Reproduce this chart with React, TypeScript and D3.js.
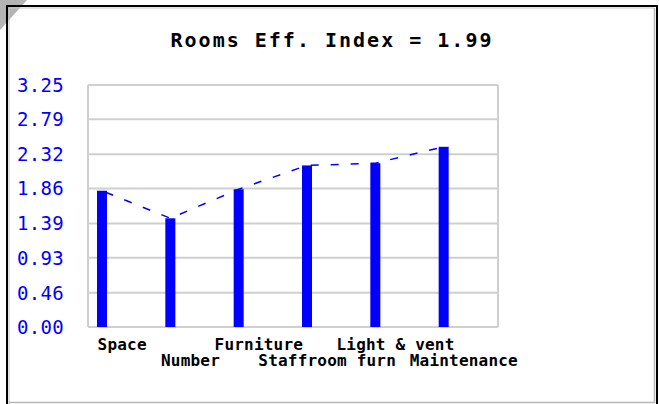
import React, { useEffect, useRef } from 'react';
import * as d3 from 'd3';

// chart data
const categories = ['Space', 'Number', 'Furniture', 'Staffroom furn', 'Light & vent', 'Maintenance'];
const values = [1.83, 1.46, 1.85, 2.17, 2.2, 2.42];
const tickLabels = ['0.00', '0.46', '0.93', '1.39', '1.86', '2.32', '2.79', '3.25'];
const title = 'Rooms Eff. Index = 1.99';

const W = 659;
const H = 404;

const App = () => {
  const svgRef = useRef<SVGSVGElement>(null);

  useEffect(() => {
    const svg = d3.select(svgRef.current);
    svg.selectAll('*').remove();

    const plot = { left: 88, right: 498, top: 85, bottom: 327 };
    const mono = '"DejaVu Sans Mono", monospace';

    const x = d3.scaleBand<string>().domain(categories).range([plot.left, plot.right]);
    const y = d3.scaleLinear().domain([0, 3.25]).range([plot.bottom, plot.top]);
    const barOffset = 9;
    const barWidth = 10;

    // outer frame
    svg.append('rect').attr('width', W).attr('height', H).attr('fill', '#fff');
    svg.append('polygon').attr('points', '0,0 27,0 0,30').attr('fill', '#b4b4b4');
    svg.append('path').attr('d', `M7,${H} V6 H657 V${H}`).attr('fill', 'none').attr('stroke', '#000').attr('stroke-width', 2);
    svg.append('path').attr('d', `M9,${H} V8 H654`).attr('fill', 'none').attr('stroke', '#c8c8c8').attr('stroke-width', 1);
    svg.append('path').attr('d', `M654.5,8 V402.5 H9`).attr('fill', 'none').attr('stroke', '#b8b8b8').attr('stroke-width', 1.5);

    // title
    svg.append('text')
      .attr('x', 332).attr('y', 47)
      .attr('text-anchor', 'middle')
      .attr('font-family', mono).attr('font-weight', 'bold').attr('font-size', 20)
      .attr('letter-spacing', 2)
      .text(title);

    // gridlines
    const ticks = tickLabels.map(Number);
    svg.append('g').selectAll('line')
      .data(ticks)
      .enter().append('line')
      .attr('x1', plot.left).attr('x2', plot.right)
      .attr('y1', d => y(d)).attr('y2', d => y(d))
      .attr('stroke', '#cfcfcf').attr('stroke-width', 2);
    svg.append('line')
      .attr('x1', plot.left).attr('x2', plot.left).attr('y1', plot.top).attr('y2', plot.bottom)
      .attr('stroke', '#cfcfcf').attr('stroke-width', 2);
    svg.append('line')
      .attr('x1', plot.right).attr('x2', plot.right).attr('y1', plot.top).attr('y2', plot.bottom)
      .attr('stroke', '#cfcfcf').attr('stroke-width', 2);

    // y tick labels
    svg.append('g').selectAll('text')
      .data(tickLabels)
      .enter().append('text')
      .attr('x', 64).attr('y', d => y(+d))
      .attr('dy', '0.36em')
      .attr('text-anchor', 'end')
      .attr('font-family', mono).attr('font-size', 19)
      .attr('letter-spacing', 0.3)
      .attr('fill', '#0000ff')
      .text(d => d);

    // dashed line through bar tops
    const line = d3.line<number>()
      .x((d, i) => (x(categories[i]) as number) + barOffset + barWidth / 2)
      .y(d => y(d));
    svg.append('path')
      .datum(values)
      .attr('d', line)
      .attr('fill', 'none')
      .attr('stroke', '#0000ff')
      .attr('stroke-width', 1.5)
      .attr('stroke-dasharray', '8,12')
      .attr('stroke-dashoffset', 16);

    // bars
    svg.append('g').selectAll('rect')
      .data(values)
      .enter().append('rect')
      .attr('x', (d, i) => (x(categories[i]) as number) + barOffset)
      .attr('y', d => y(d))
      .attr('width', barWidth)
      .attr('height', d => plot.bottom - y(d))
      .attr('fill', '#0000ff');

    // category labels, staggered on two rows
    svg.append('g').selectAll('text')
      .data(categories)
      .enter().append('text')
      .attr('x', d => (x(d) as number) + x.bandwidth() / 2)
      .attr('y', (d, i) => (i % 2 === 0 ? 350 : 366))
      .attr('text-anchor', 'middle')
      .attr('font-family', mono).attr('font-size', 16).attr('font-weight', 'bold')
      .attr('letter-spacing', 0.2)
      .attr('fill', '#000')
      .text(d => d);
  }, []);

  return (
    <svg
      ref={svgRef}
      width={W}
      height={H}
      style={{ position: 'absolute', left: 0, top: 0, display: 'block' }}
    />
  );
};

export default App;
